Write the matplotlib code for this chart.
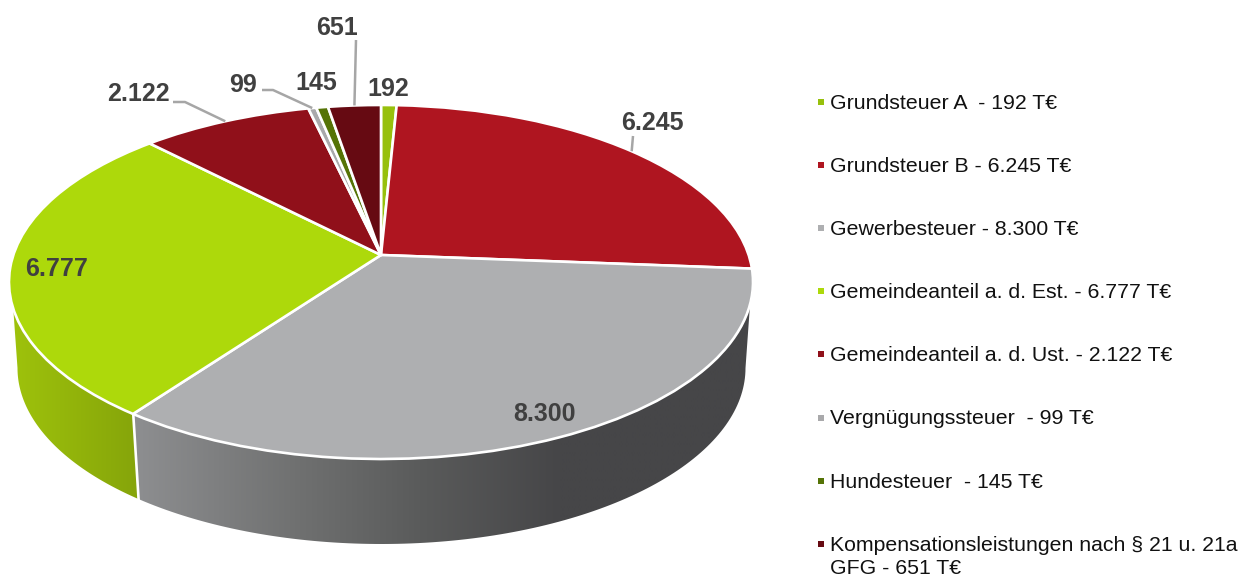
import numpy as np
import matplotlib
matplotlib.use('Agg')
import matplotlib.pyplot as plt
from matplotlib.patches import Polygon
from matplotlib.transforms import Transform

plt.rcParams['font.family'] = ['Liberation Sans', 'DejaVu Sans']

values = [192, 6245, 8300, 6777, 2122, 99, 145, 651]
value_labels = ['192', '6.245', '8.300', '6.777', '2.122', '99', '145', '651']
legend_labels = ['Grundsteuer A  - 192 T€', 'Grundsteuer B - 6.245 T€', 'Gewerbesteuer - 8.300 T€',
                 'Gemeindeanteil a. d. Est. - 6.777 T€', 'Gemeindeanteil a. d. Ust. - 2.122 T€',
                 'Vergnügungssteuer  - 99 T€', 'Hundesteuer  - 145 T€',
                 'Kompensationsleistungen nach § 21 u. 21a\nGFG - 651 T€']
colors = ['#97C00C', '#AF1520', '#AEAFB1', '#ADD90B', '#90101A', '#A9A9AB', '#557306', '#660A12']
label_pos = [(388, 89), (652, 123), (544, 414), (57, 269), (138, 94), (243, 85), (316, 83), (337, 28)]

# pie tilt in pixels: apex, top ellipse, bottom ellipse
AX, AY = 381, 255
CX, CY, RX, RY = 381.5, 282, 372, 177
BY, BRX, BRY = 368, 364, 176
C = 54 / 354
A = 150 * (1 + C)
D = RX * np.sqrt(1 - C**2)


class Perspective(Transform):
    input_dims = 2
    output_dims = 2
    is_separable = False
    has_inverse = False

    def transform_non_affine(self, xy):
        xy = np.asarray(xy, dtype=float)
        w = 1 + C * xy[:, 1]
        return np.column_stack([AX + D * xy[:, 0] / w, AY - A * xy[:, 1] / w])


persp = Perspective()


def rim_point(frac):
    t = 2 * np.pi * frac          # clockwise from 12 o'clock
    return persp.transform(np.array([[np.sin(t), np.cos(t)]]))[0]


def rim_phi(frac):
    x, y = rim_point(frac)
    return np.arctan2((y - CY) / RY, (x - CX) / RX) % (2 * np.pi)


def wall(phi0, phi1, x0, x1, stops):
    p = np.linspace(phi0, phi1, 120)
    top = np.column_stack([CX + RX * np.cos(p), CY + RY * np.sin(p)])
    # the outer ends of the wall drop to the widest point of the bottom ellipse
    q = np.linspace(np.pi if phi1 > 2.9 else phi1, 0 if phi0 < 0.2 else phi0, 120)
    bot = np.column_stack([CX + BRX * np.cos(q), BY + BRY * np.sin(q)])
    poly = Polygon(np.vstack([top, bot]), closed=True, facecolor='none', edgecolor='none')
    ax.add_patch(poly)
    xs = np.linspace(x0, x1, 400)
    grad = np.stack([np.interp(xs, stops[0], [matplotlib.colors.to_rgb(c)[i] for c in stops[1]])
                     for i in range(3)], axis=-1)[None, :, :]
    im = ax.imshow(grad, extent=(x0, x1, 577, 0), aspect='auto', zorder=1, interpolation='bilinear')
    im.set_clip_path(poly)


fig = plt.figure(figsize=(12.42, 5.77), dpi=100)
ax = fig.add_axes([0, 0, 1, 1])

wedges, _ = ax.pie(values, colors=colors, startangle=90, counterclock=False,
                   wedgeprops=dict(edgecolor='white', linewidth=1.9, joinstyle='round'))
for w in wedges:
    w.set_transform(persp + ax.transData)
    w.set_zorder(3)

total = float(sum(values))
cum = np.cumsum(values) / total
split = rim_phi(cum[2])
split_x = rim_point(cum[2])[0]
wall(split, 172 * np.pi / 180, 5, split_x + 6, ([5, 135], ['#A0C40C', '#86A50A']))
wall(8 * np.pi / 180, split, split_x, 760,
     ([137, 300, 420, 560, 760], ['#8D8E90', '#6F7070', '#5A5B5B', '#464648', '#464648']))
ax.plot([CX + RX * np.cos(split), CX + BRX * np.cos(split)],
        [CY + RY * np.sin(split), BY + BRY * np.sin(split)], color='white', lw=1.9, zorder=2)

# leader lines end on the rim at the middle of the slice
mids = (cum - np.array(values) / total / 2)
for i, elbow in [(1, [(633, 136)]), (4, [(173, 102), (185, 102)]),
                 (5, [(262, 90), (273, 90)]), (7, [(356, 40)])]:
    pts = np.array(elbow + [tuple(rim_point(mids[i]))])
    ax.plot(pts[:, 0], pts[:, 1], color='#A6A6A6', lw=1.8, zorder=4, solid_capstyle='butt')

for lab, (x, y) in zip(value_labels, label_pos):
    ax.text(x, y, lab, ha='center', va='center', fontsize=18, fontweight='bold', color='#404040', zorder=5)

for i, (lab, col) in enumerate(zip(legend_labels, colors)):
    y = 102 + i * 63.1
    ax.plot([821], [y], marker='s', ms=4.6, color=col, mew=0, ls='none')
    ax.text(830, y - 8, lab, ha='left', va='top', fontsize=15.3, color='#111111', linespacing=1.3)

ax.set_aspect('auto')
ax.set_xlim(0, 1242)
ax.set_ylim(577, 0)
ax.axis('off')
fig.savefig('out.png', dpi=100)
